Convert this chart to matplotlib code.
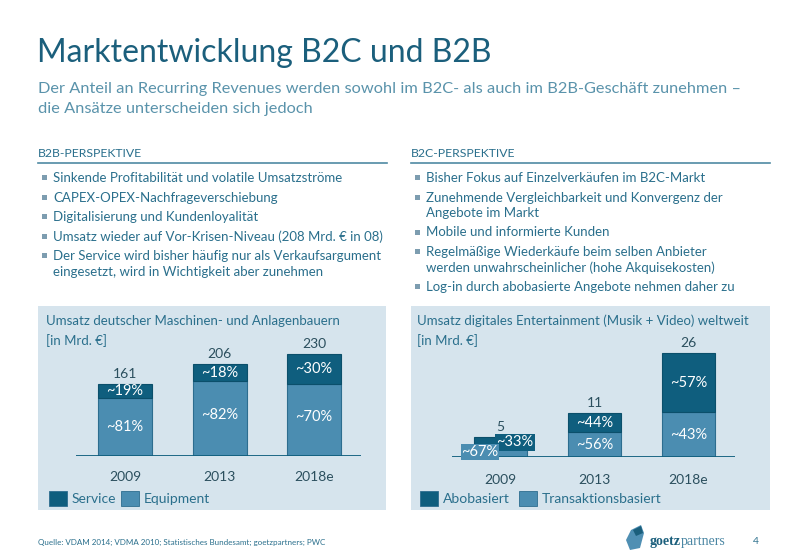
import matplotlib
matplotlib.use("Agg")
import matplotlib.pyplot as plt
from matplotlib.patches import Rectangle, Polygon

# ---- data ----
years = ["2009", "2013", "2018e"]
b2b_total = [161, 206, 230]
b2b_service_share = [19, 18, 30]
b2b_equipment_share = [81, 82, 70]
b2c_total = [5, 11, 26]
b2c_abo_share = [33, 44, 57]
b2c_trans_share = [67, 56, 43]

b2b_bullets = ["Sinkende Profitabilität und volatile Umsatzströme",
               "CAPEX-OPEX-Nachfrageverschiebung",
               "Digitalisierung und Kundenloyalität",
               "Umsatz wieder auf Vor-Krisen-Niveau (208 Mrd. € in 08)",
               "Der Service wird bisher häufig nur als Verkaufsargument\neingesetzt, wird in Wichtigkeit aber zunehmen"]
b2c_bullets = ["Bisher Fokus auf Einzelverkäufen im B2C-Markt",
               "Zunehmende Vergleichbarkeit und Konvergenz der\nAngebote im Markt",
               "Mobile und informierte Kunden",
               "Regelmäßige Wiederkäufe beim selben Anbieter\nwerden unwahrscheinlicher (hohe Akquisekosten)",
               "Log-in durch abobasierte Angebote nehmen daher zu"]

DARK = "#0f5e7e"
LIGHT = "#4b8db1"
TITLE = "#1b5f7c"
TEXT = "#2a6f8c"
SUB = "#5a93ab"
PANEL = "#d6e4ed"
FONT = "Lato"

plt.rcParams["font.family"] = [FONT, "DejaVu Sans"]

W, H = 800, 554
fig = plt.figure(figsize=(8, 5.54), dpi=100)
bg = fig.add_axes([0, 0, 1, 1])
bg.set_xlim(0, W)
bg.set_ylim(H, 0)
bg.axis("off")

# header
bg.text(37, 62, "Marktentwicklung B2C und B2B", fontsize=23, color=TITLE, va="baseline")
bg.text(38, 93, "Der Anteil an Recurring Revenues werden sowohl im B2C- als auch im B2B-Geschäft zunehmen –",
        fontsize=11.8, color=SUB, va="baseline")
bg.text(38, 113, "die Ansätze unterscheiden sich jedoch", fontsize=11.8, color=SUB, va="baseline")

# section headers and bullets
for x0, x1, head, items in [(38, 387, "B2B-PERSPEKTIVE", b2b_bullets),
                            (411, 770, "B2C-PERSPEKTIVE", b2c_bullets)]:
    bg.text(x0, 157, head, fontsize=8.8, color=TEXT, va="baseline")
    bg.plot([x0, x1], [163, 163], color="#4f8aa3", lw=1.2)
    y = 178
    for it in items:
        bg.add_patch(Rectangle((x0 + 4, y - 3), 5, 5, color="#7d9db0", lw=0))
        lines = it.split("\n")
        for k, ln in enumerate(lines):
            bg.text(x0 + 15, y + 15.5 * k, ln, fontsize=9.5, color=TEXT, va="center")
        y += 15.5 * (len(lines) - 1) + 19.5

# panels
bg.add_patch(Rectangle((38, 306), 348, 204, color=PANEL, lw=0))
bg.add_patch(Rectangle((411, 306), 359, 204, color=PANEL, lw=0))
bg.text(46, 321, "Umsatz deutscher Maschinen- und Anlagenbauern", fontsize=9.5, color=TEXT, va="center")
bg.text(46, 341, "[in Mrd. €]", fontsize=9.5, color=TEXT, va="center")
bg.text(417, 321, "Umsatz digitales Entertainment (Musik + Video) weltweit", fontsize=9.5, color=TEXT, va="center")
bg.text(417, 341, "[in Mrd. €]", fontsize=9.5, color=TEXT, va="center")


def chart(xl, xr, ybase, ytop, c0, spacing, bw, per_px, totals, top_share, bot_share):
    ax = fig.add_axes([xl / W, (H - ybase) / H, (xr - xl) / W, (ybase - ytop) / H])
    u = spacing
    lo = -(c0 - xl) / u
    ax.set_xlim(lo, lo + (xr - xl) / u)
    ax.set_ylim(0, (ybase - ytop) * per_px)
    ax.axis("off")
    ax.axhline(0, color=DARK, lw=1.3)
    xs = range(len(totals))
    bot = [t * b / 100 for t, b in zip(totals, bot_share)]
    top = [t - b for t, b in zip(totals, bot)]
    ax.bar(xs, bot, width=bw / u, color=LIGHT, edgecolor="#2d6d8f", lw=0.8)
    ax.bar(xs, top, bottom=bot, width=bw / u, color=DARK, edgecolor="#0b4f6b", lw=0.8)
    for i in xs:
        ax.text(i, totals[i] + 4 * per_px, str(totals[i]), ha="center", va="bottom",
                fontsize=10, color="#2b4f5e")
    return ax, bot, top


PCT = 10.5
axl, bl, tl = chart(76, 361, 456, 330, 125, 94.5, 54, 2.25, b2b_total,
                    b2b_service_share, b2b_equipment_share)
for i in range(3):
    axl.text(i, bl[i] + tl[i] / 2, "~%d%%" % b2b_service_share[i], ha="center", va="center",
             color="white", fontsize=PCT)
    axl.text(i, bl[i] / 2 + [0, 8, 8][i], "~%d%%" % b2b_equipment_share[i], ha="center",
             va="center", color="white", fontsize=PCT)

axr, br, tr = chart(452, 735, 457, 330, 500.5, 94, 53, 0.25, b2c_total,
                    b2c_abo_share, b2c_trans_share)
for i in range(1, 3):
    axr.text(i, br[i] + tr[i] / 2, "~%d%%" % b2c_abo_share[i], ha="center", va="center",
             color="white", fontsize=PCT)
    axr.text(i, br[i] / 2, "~%d%%" % b2c_trans_share[i], ha="center", va="center",
             color="white", fontsize=PCT)
# the 2009 labels overlap the small bar
axr.text(0.15, br[0] + tr[0] / 2 - 0.5, "~%d%%" % b2c_abo_share[0], ha="center", va="center",
         color="white", fontsize=PCT,
         bbox=dict(boxstyle="square,pad=0.1", fc=DARK, ec="none"))
axr.text(-0.22, br[0] / 2 - 0.4, "~%d%%" % b2c_trans_share[0], ha="center", va="center",
         color="white", fontsize=PCT,
         bbox=dict(boxstyle="square,pad=0.05", fc=LIGHT, ec="none"))

for x, txt in zip([125, 219.5, 314.5], years):
    bg.text(x, 477, txt, ha="center", va="center", fontsize=10, color="#2b4f5e")
for x, txt in zip([500.5, 594.5, 688.5], years):
    bg.text(x, 480, txt, ha="center", va="center", fontsize=10, color="#2b4f5e")

# legends
for x, c, lab in [(49, DARK, "Service"), (121, LIGHT, "Equipment"),
                  (420, DARK, "Abobasiert"), (519, LIGHT, "Transaktionsbasiert")]:
    bg.add_patch(Rectangle((x, 491), 18, 15, fc=c, ec="#2d6d8f", lw=0.6))
    bg.text(x + 23, 499, lab, fontsize=10, color=TEXT, va="center")

# footer
bg.text(38, 542, "Quelle: VDAM 2014; VDMA 2010; Statistisches Bundesamt; goetzpartners; PWC",
        fontsize=5.8, color=TEXT, va="center")
bg.add_patch(Polygon([[631, 530], [641, 525], [644, 533], [640, 548], [630, 550], [626, 540]],
                     closed=True, color="#4f8fb3", lw=0))
bg.add_patch(Polygon([[633, 530], [641, 526], [643, 533], [636, 536]],
                     closed=True, color="#1b5f7c", lw=0))
t1 = bg.text(650, 541, "goetz", fontsize=10, color="#1b5f7c", va="center",
             family=["Liberation Serif"], fontweight="bold")
bg.annotate("partners", xycoords=t1, xy=(1, 0.5), va="center", fontsize=10, color="#4a86a3",
            family=["Liberation Serif"])
bg.text(753, 541, "4", fontsize=7.5, color=TEXT, va="center")

fig.savefig("out.png", dpi=100, facecolor="white")
